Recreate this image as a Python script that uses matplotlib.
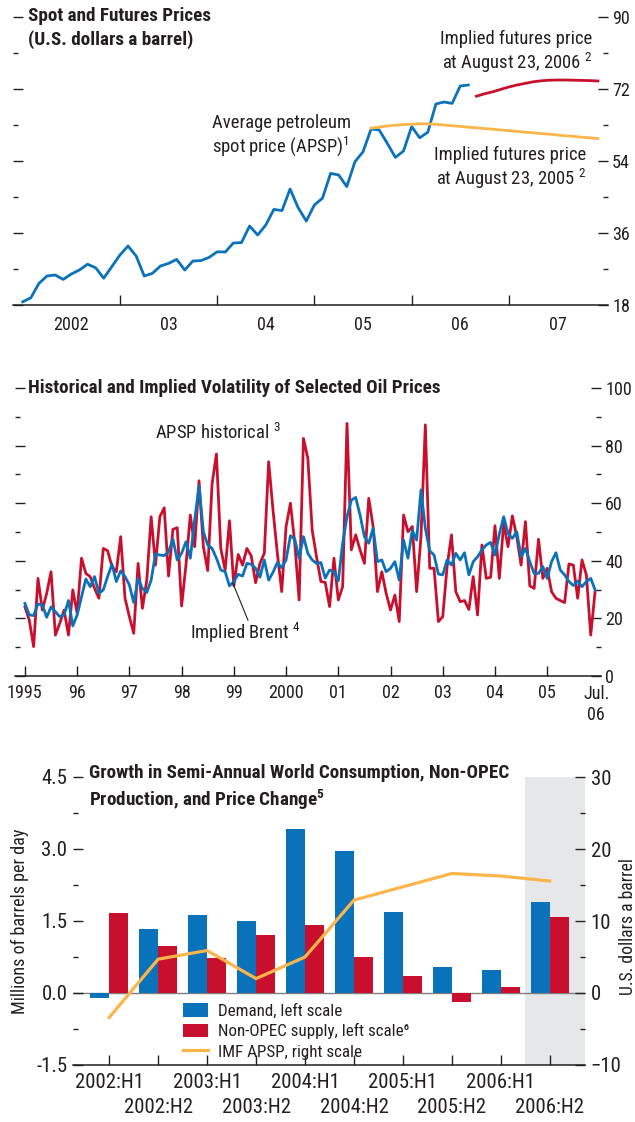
import matplotlib
matplotlib.use('Agg')
import matplotlib.pyplot as plt
import numpy as np
from matplotlib import font_manager as fm
from matplotlib.patches import Patch
from matplotlib.lines import Line2D
from matplotlib.ticker import MultipleLocator, FixedLocator, NullFormatter

# ---- pick the narrowest available sans family
_fonts = fm.fontManager.ttflist
_names = {f.name for f in _fonts}
STRETCH = 'normal'
if 'Liberation Sans Narrow' in _names:
    FAM = 'Liberation Sans Narrow'
elif 'Roboto Condensed' in _names:
    FAM = 'Roboto Condensed'
elif any(f.name == 'DejaVu Sans' and 'ondensed' in f.fname for f in _fonts):
    FAM = 'DejaVu Sans'
    STRETCH = 'condensed'
else:
    FAM = 'Liberation Sans'
plt.rcParams['font.family'] = [FAM, 'DejaVu Sans']
plt.rcParams['font.stretch'] = STRETCH
plt.rcParams['mathtext.fontset'] = 'custom'
plt.rcParams['mathtext.rm'] = FAM + (':stretch=condensed' if STRETCH != 'normal' else '')
plt.rcParams['mathtext.it'] = FAM + ':italic'
plt.rcParams['mathtext.bf'] = FAM + ':bold'

TXT = '#231f20'
BLUE = '#0a72ba'
RED = '#c8102e'
ORANGE = '#fbb54a'
SHADE = '#e6e7e8'

# ---------------- Panel 1: Spot and futures prices (monthly, from Jan 2002)
apsp_spot = [18.8, 19.8, 23.4, 25.25, 25.5, 24.4, 25.75, 26.75, 28.2, 27.3, 24.7, 27.6,
             30.5, 32.75, 30.25, 25.25, 25.9, 27.75, 28.4, 29.4, 26.75, 29.0, 29.1, 29.9,
             31.3, 31.25, 33.5, 33.6, 37.75, 35.5, 38.0, 41.9, 41.6, 47.0, 42.3, 39.0,
             43.0, 44.7, 50.9, 50.5, 47.6, 53.8, 56.3, 62.0, 61.75, 58.4, 54.9, 56.5,
             62.6, 59.8, 61.2, 68.25, 68.75, 68.4, 72.75, 73.0]
futures_2005 = [62.2, 62.5, 62.75, 62.95, 63.1, 63.2, 63.3, 63.3, 63.15, 63.0, 62.8, 62.65,
                62.45, 62.3, 62.1, 61.95, 61.75, 61.6, 61.4, 61.2, 61.05, 60.85, 60.7, 60.5,
                60.3, 60.15, 59.95, 59.8, 59.6]          # from Aug 2005
futures_2006 = [70.2, 70.8, 71.3, 71.9, 72.5, 73.0, 73.4, 73.8, 74.05, 74.2, 74.25, 74.25,
                74.2, 74.15, 74.1, 74.0]                  # from Sep 2006
p1_year_labels = ['2002', '03', '04', '05', '06', '07']

# ---------------- Panel 2: volatility (monthly, from Jan 1995)
apsp_hist = [24.0, 19.4, 10.2, 33.9, 22.9, 28.7, 36.2, 14.2, 18.3, 22.9,
             14.2, 29.9, 21.8, 40.9, 35.6, 34.5, 30.4, 27.0, 44.3, 43.5,
             38.0, 36.2, 48.4, 27.0, 20.6, 14.8, 39.1, 23.5, 33.3, 55.3,
             38.5, 55.3, 58.4, 34.7, 50.9, 51.5, 24.3, 38.5, 55.9, 44.9,
             67.8, 44.9, 36.6, 66.7, 77.1, 44.3,
             36.8, 53.9, 31.3, 42.2, 38.5, 44.3, 41.7, 32.4, 39.1, 42.6,
             74.4, 57.6, 42.6, 29.3, 51.9, 60.0, 46.1, 26.4, 82.5, 75.6,
             50.7, 41.4, 32.8, 32.5, 24.1, 40.9, 26.4, 31.0, 87.7, 43.8,
             49.0, 43.8, 39.1, 61.7, 51.9, 29.3, 36.2, 28.7, 22.9, 28.1,
             18.9, 55.9, 50.1, 51.9, 29.3,
             48.4, 87.2, 37.4, 37.4, 18.9, 20.6, 38.0, 49.0, 29.3, 25.8,
             26.2, 23.1, 34.5, 21.2, 45.5, 33.9, 34.3, 52.2, 33.9, 53.0,
             44.9, 55.6, 48.4, 38.5, 53.6, 31.3, 30.4, 47.5, 33.9, 37.4,
             29.3, 27.0, 26.2, 25.5, 38.9, 38.5, 27.0, 40.3, 35.1, 14.2, 29.3]
implied_brent = [25.2, 21.2, 21.0, 25.0, 24.7, 20.4, 24.0, 22.3, 20.6, 21.2,
                 26.2, 17.4, 21.2, 27.5, 33.7, 31.0, 34.5, 28.7, 29.9, 34.5,
                 38.8, 32.8, 36.5, 34.5, 31.6, 25.5, 33.8, 30.4, 29.0, 33.3,
                 42.4, 42.0, 41.8, 43.2, 47.5, 40.3, 42.6, 46.6, 40.9, 54.2,
                 66.0, 50.1, 45.5, 44.3, 40.9, 36.8,
                 36.2, 31.3, 32.8, 35.3, 34.7, 39.1, 38.8, 37.4, 34.3, 40.3,
                 33.3, 36.0, 39.4, 37.6, 40.3, 48.7, 47.5, 40.9, 48.4, 42.6,
                 40.3, 39.1, 39.4, 34.0, 36.8, 36.2, 33.0, 46.1, 55.3, 61.1,
                 62.0, 55.9, 48.4, 46.1, 51.3, 39.7, 40.3, 36.2, 37.4, 39.7,
                 33.3, 47.2, 40.9, 50.7,
                 47.2, 64.6, 51.3, 43.5, 42.0, 35.4, 35.1, 40.3, 38.5, 42.6,
                 40.3, 42.8, 35.1, 39.7, 41.4, 43.8, 45.5, 46.4, 42.0, 49.3,
                 55.3, 49.5, 47.8, 50.1, 41.4, 44.3, 39.7, 35.6, 35.6, 38.0,
                 33.9, 39.7, 42.8, 36.8, 35.1, 32.8, 31.4, 33.0, 31.0, 32.8, 33.9, 29.9]
p2_year_labels = ['1995', '96', '97', '98', '99', '2000', '01', '02', '03', '04', '05']

# ---------------- Panel 3: semi-annual growth
halves = ['2002:H1', '2002:H2', '2003:H1', '2003:H2', '2004:H1', '2004:H2',
          '2005:H1', '2005:H2', '2006:H1', '2006:H2']
demand = [-0.10, 1.33, 1.62, 1.50, 3.42, 2.96, 1.69, 0.54, 0.48, 1.90]
non_opec = [1.66, 0.98, 0.73, 1.21, 1.42, 0.75, 0.35, -0.18, 0.13, 1.58]
imf_apsp = [-3.4, 4.7, 5.9, 2.0, 5.0, 12.9, 14.75, 16.6, 16.25, 15.55]

W, H = 635, 1122
fig = plt.figure(figsize=(W / 100, H / 100), dpi=100)
_rend = fig.canvas.get_renderer()


def fit(text, target_px, weight='normal', base=20.0):
    t = fig.text(0, 0, text, fontsize=base, fontweight=weight)
    w = t.get_window_extent(_rend).width
    t.remove()
    return base * target_px / w


def rect(x0, y0, x1, y1):
    return [x0 / W, 1 - y1 / H, (x1 - x0) / W, (y1 - y0) / H]


def fpos(x, y):
    return x / W, 1 - y / H


TICK_FS = fit('2002', 36)
BFS = fit('2002:H1', 69)
TITLE_FS = fit('Historical and Implied Volatility of Selected Oil Prices', 412, 'bold')
ANN_FS = fit('Implied futures price', 152)
LEG_FS = fit('Demand, left scale', 124)
YL_FS = fit('Millions of barrels per day', 185)
YR_FS = fit('U.S. dollars a barrel', 136)

tick_kw = dict(direction='in', color=TXT, labelcolor=TXT, width=1)


def style_axes(ax):
    for s in ['left', 'right', 'top']:
        ax.spines[s].set_visible(False)
    ax.spines['bottom'].set_color(TXT)
    ax.spines['bottom'].set_linewidth(1.1)


# ===== Panel 1
ax1 = fig.add_axes(rect(13, 17, 608, 305))
style_axes(ax1)
m1 = 2002 + np.arange(len(apsp_spot)) / 12
ax1.plot(m1, apsp_spot, color=BLUE, lw=2.0)
m05 = 2005 + 7 / 12 + np.arange(len(futures_2005)) / 12
ax1.plot(m05, futures_2005, color=ORANGE, lw=2.0)
m06 = 2006 + 8 / 12 + np.arange(len(futures_2006)) / 12
ax1.plot(m06, futures_2006, color=RED, lw=2.0)
ax1.set_xlim(2001.9, 2008.02)
ax1.set_ylim(18, 90)
ax1.xaxis.set_major_locator(FixedLocator(np.arange(2003, 2008)))
ax1.xaxis.set_major_formatter(NullFormatter())
ax1.xaxis.set_minor_locator(FixedLocator(np.arange(2002, 2008) + 0.5))
ax1.set_xticklabels(p1_year_labels, minor=True)
ax1.tick_params(axis='x', which='major', length=7, **tick_kw)
ax1.tick_params(axis='x', which='minor', length=0, pad=8, labelsize=TICK_FS, labelcolor=TXT)
ax1.yaxis.set_major_locator(MultipleLocator(18))
ax1.yaxis.set_minor_locator(MultipleLocator(9))
ax1.tick_params(axis='y', which='both', left=True, right=True, labelleft=False,
                labelright=True, labelsize=TICK_FS, pad=3, **tick_kw)
ax1.tick_params(axis='y', which='major', length=7)
ax1.tick_params(axis='y', which='minor', length=3.5)

fig.text(*fpos(28, 28), 'Spot and Futures Prices\n(U.S. dollars a barrel)', fontsize=TITLE_FS,
         fontweight='bold', color=TXT, va='center', ha='left', linespacing=1.3)
ax1.text(2003.95, 60.3, 'Average petroleum\nspot price (APSP)$^{1}$', fontsize=ANN_FS,
         color=TXT, ha='left', va='center', linespacing=1.15)
ax1.text(2007.86, 81.1, 'Implied futures price\nat August 23, 2006 $^{2}$', fontsize=ANN_FS,
         color=TXT, ha='right', va='center', linespacing=1.15, multialignment='right')
ax1.text(2007.80, 52.1, 'Implied futures price\nat August 23, 2005 $^{2}$', fontsize=ANN_FS,
         color=TXT, ha='right', va='center', linespacing=1.15, multialignment='right')

# ===== Panel 2
ax2 = fig.add_axes(rect(15, 388, 601, 676))
style_axes(ax2)
m2 = 1995 + np.arange(len(apsp_hist)) / 12
ax2.plot(m2, apsp_hist, color=RED, lw=2.0)
ax2.plot(m2, implied_brent, color=BLUE, lw=2.0)
ax2.set_xlim(1994.81, 2006.03)
ax2.set_ylim(0, 100)
ax2.xaxis.set_major_locator(FixedLocator(np.arange(1995, 2006)))
ax2.set_xticklabels(p2_year_labels)
ax2.tick_params(axis='x', which='major', length=7, labelsize=TICK_FS, pad=6, **tick_kw)
ax2.yaxis.set_major_locator(MultipleLocator(20))
ax2.yaxis.set_minor_locator(MultipleLocator(10))
ax2.tick_params(axis='y', which='both', left=True, right=True, labelleft=False,
                labelright=True, labelsize=TICK_FS, pad=3, **tick_kw)
ax2.tick_params(axis='y', which='major', length=7)
ax2.tick_params(axis='y', which='minor', length=3.5)
ax2.text(2005.94, -3.0, 'Jul.\n06', fontsize=TICK_FS, color=TXT, ha='center', va='top',
         linespacing=1.25)

fig.text(*fpos(28, 388), 'Historical and Implied Volatility of Selected Oil Prices',
         fontsize=TITLE_FS, fontweight='bold', color=TXT, va='center', ha='left')
ax2.text(1997.49, 84.4, 'APSP historical $^{3}$', fontsize=ANN_FS, color=TXT,
         ha='left', va='center')
ax2.text(1998.16, 14.9, 'Implied Brent $^{4}$', fontsize=ANN_FS, color=TXT,
         ha='left', va='center')
ax2.plot([1998.98, 1999.27], [32.3, 19.4], color=TXT, lw=0.8)

# ===== Panel 3
ax3 = fig.add_axes(rect(73, 777, 585, 1065))
style_axes(ax3)
xc = np.arange(len(halves))
bw = 0.39
ax3.axvspan(8.5, 9.8, color=SHADE, lw=0, zorder=0)
ax3.axhline(0, color='#7f7f7f', lw=1.0, zorder=1)
ax3.bar(xc - bw / 2, demand, width=bw, color=BLUE, zorder=2)
ax3.bar(xc + bw / 2, non_opec, width=bw, color=RED, zorder=2)
ax3.set_xlim(-0.74, 9.72)
ax3.set_ylim(-1.5, 4.5)
ax3.set_xticks(xc[0::2])
ax3.set_xticklabels(halves[0::2])
ax3.set_xticks(xc[1::2], minor=True)
ax3.set_xticklabels(halves[1::2], minor=True)
ax3.tick_params(axis='x', which='major', length=7, labelsize=BFS, pad=6, **tick_kw)
ax3.tick_params(axis='x', which='minor', length=7, labelsize=BFS, pad=24, **tick_kw)
ax3.set_yticks([4.5, 3.0, 1.5, 0.0, -1.5])
ax3.set_yticklabels(['4.5', '3.0', '1.5', '0.0', '-1.5'])
ax3.set_yticks([3.75, 2.25, 0.75, -0.75], minor=True)
ax3.tick_params(axis='y', which='both', labelsize=BFS, pad=4, **tick_kw)
ax3.tick_params(axis='y', which='major', length=7)
ax3.tick_params(axis='y', which='minor', length=3.5)
ax3.set_ylabel('Millions of barrels per day', fontsize=YL_FS, color=TXT, labelpad=5)

ax3r = ax3.twinx()
for s in ['left', 'right', 'top', 'bottom']:
    ax3r.spines[s].set_visible(False)
ax3r.plot(xc, imf_apsp, color=ORANGE, lw=2.3, zorder=3)
ax3r.set_ylim(-10, 30)
ax3r.yaxis.set_major_locator(MultipleLocator(10))
ax3r.yaxis.set_minor_locator(MultipleLocator(5))
ax3r.tick_params(axis='y', which='both', labelsize=BFS, pad=4, **tick_kw)
ax3r.tick_params(axis='y', which='major', length=7)
ax3r.tick_params(axis='y', which='minor', length=3.5)
fig.text(*fpos(628, 927), 'U.S. dollars a barrel', rotation=90, fontsize=YR_FS, color=TXT,
         ha='center', va='center')

fig.text(*fpos(89, 788), 'Growth in Semi-Annual World Consumption, Non-OPEC\n'
         r'Production, and Price Change$^{\mathbf{5}}$', fontsize=TITLE_FS, fontweight='bold',
         color=TXT, ha='left', va='center', linespacing=1.3)

handles = [Patch(facecolor=BLUE, edgecolor='none'),
           Patch(facecolor=RED, edgecolor='none'),
           Line2D([0], [0], color=ORANGE, lw=2.3)]
labels = ['Demand, left scale', 'Non-OPEC supply, left scale\u2076', 'IMF APSP, right scale']
em_px = LEG_FS * 100 / 72
fig.legend(handles, labels, loc='upper left', bbox_to_anchor=fpos(183, 1003), frameon=False,
           fontsize=LEG_FS, handlelength=25 / em_px, handleheight=0.85,
           handletextpad=10 / em_px, labelspacing=0.28, borderpad=0, borderaxespad=0,
           labelcolor=TXT)

fig.savefig('out.png', dpi=100)
